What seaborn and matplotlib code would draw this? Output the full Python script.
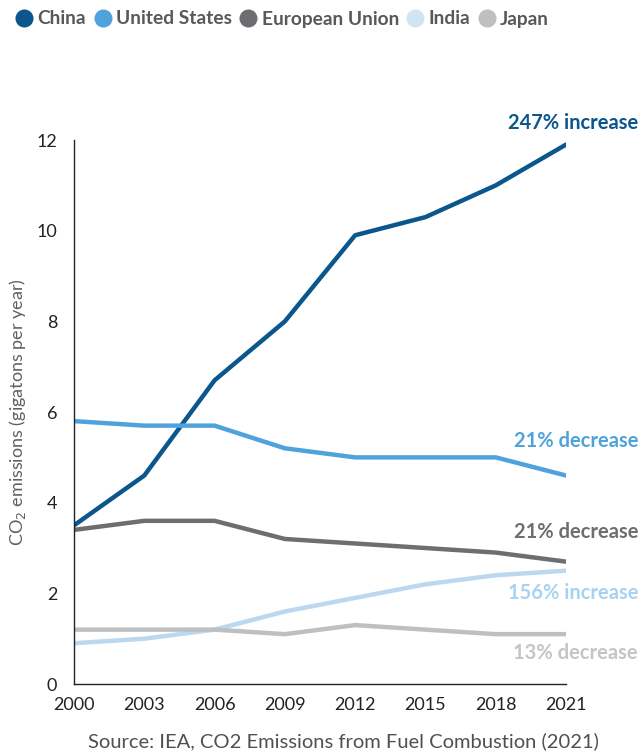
import matplotlib
matplotlib.use("Agg")
import matplotlib.pyplot as plt
from matplotlib.lines import Line2D
import pandas as pd
import seaborn as sns

years = [2000, 2003, 2006, 2009, 2012, 2015, 2018, 2021]
china = [3.5, 4.6, 6.7, 8.0, 9.9, 10.3, 11.0, 11.9]
united_states = [5.8, 5.7, 5.7, 5.2, 5.0, 5.0, 5.0, 4.6]
european_union = [3.4, 3.6, 3.6, 3.2, 3.1, 3.0, 2.9, 2.7]
india = [0.9, 1.0, 1.2, 1.6, 1.9, 2.2, 2.4, 2.5]
japan = [1.2, 1.2, 1.2, 1.1, 1.3, 1.2, 1.1, 1.1]

regions = ["China", "United States", "European Union", "India", "Japan"]
series = [china, united_states, european_union, india, japan]
changes = ["247% increase", "21% decrease", "21% decrease", "156% increase", "13% decrease"]
y_ticks = [0, 2, 4, 6, 8, 10, 12]

line_colors = {
    "China": "#0b568c",
    "United States": "#4fa3dc",
    "European Union": "#6d6e71",
    "India": "#bcd8f0",
    "Japan": "#bebfc1",
}
legend_colors = {
    "China": "#0b568c",
    "United States": "#4fa3dc",
    "European Union": "#6d6e71",
    "India": "#cfe5f4",
    "Japan": "#bebfc1",
}
label_colors = {
    "China": "#0b568c",
    "United States": "#4fa3dc",
    "European Union": "#6d6e71",
    "India": "#a8d3f0",
    "Japan": "#c4c5c7",
}

df = pd.DataFrame(
    [(r, y, v) for r, vals in zip(regions, series) for y, v in zip(years, vals)],
    columns=["region", "year", "emissions"],
)

sns.set_style("white")
plt.rcParams["font.family"] = ["Lato", "DejaVu Sans"]

fig = plt.figure(figsize=(6.42, 7.53), dpi=100)
ax = fig.add_axes([0.1153, 0.0916, 0.8816 - 0.1153, 0.814 - 0.0916])

sns.lineplot(data=df, x="year", y="emissions", hue="region", palette=line_colors,
             hue_order=regions, linewidth=3.2, legend=False, ax=ax,
             solid_capstyle="round")

ax.set_xlim(2000, 2021)
ax.set_ylim(0, 12)
ax.set_xticks(years)
ax.set_yticks(y_ticks)
ax.tick_params(axis="both", length=0, labelsize=13, colors="#222222")
ax.tick_params(axis="x", pad=9)
ax.tick_params(axis="y", pad=12)
for s in ["top", "right"]:
    ax.spines[s].set_visible(False)
for s in ["left", "bottom"]:
    ax.spines[s].set_color("#222222")
    ax.spines[s].set_linewidth(1.0)
ax.set_xlabel("")
ax.set_ylabel(r"CO$_2$ emissions (gigatons per year)", fontsize=13,
              color="#606060", labelpad=6)

# Percent-change labels on the right edge
label_y = [123, 441, 532, 593, 653]
for r, txt, py in zip(regions, changes, label_y):
    fig.text(638 / 642, 1 - py / 753, txt, ha="right", va="center",
             fontsize=14.5, fontweight="bold", color=label_colors[r])

# Legend across the top
handles = [Line2D([0], [0], marker="o", linestyle="", markersize=13,
                  markerfacecolor=legend_colors[r], markeredgecolor="none")
           for r in regions]
fig.legend(handles, regions, loc="center left", bbox_to_anchor=(0.005, 1 - 19 / 753),
           ncol=5, frameon=False, handletextpad=0.2, columnspacing=0.35,
           handlelength=1.0, borderaxespad=0.2,
           prop={"size": 13.8, "weight": "bold"}, labelcolor="#58595b")

fig.text(343 / 642, 1 - 741 / 753,
         "Source: IEA, CO2 Emissions from Fuel Combustion (2021)",
         ha="center", va="center", fontsize=14.5, color="#505050")

fig.savefig("out.png", dpi=100)
